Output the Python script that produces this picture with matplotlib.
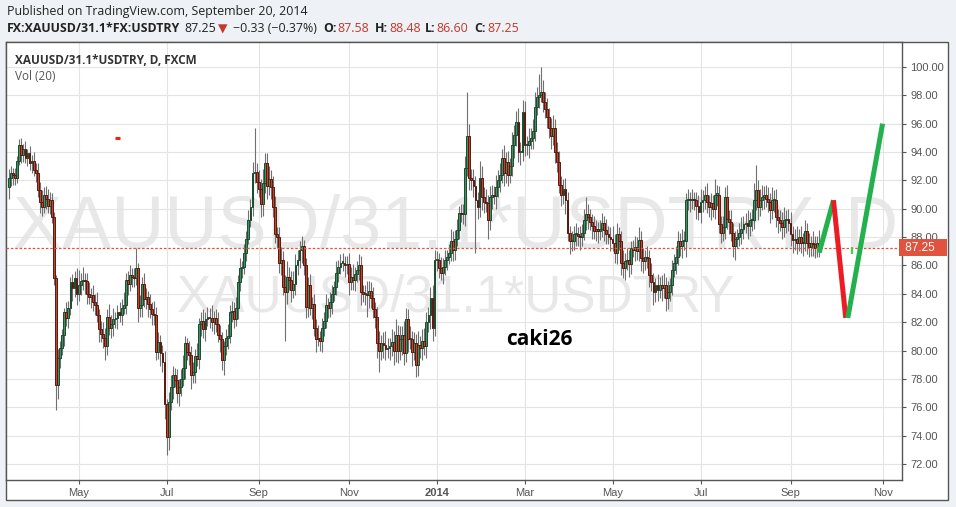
# XAUUSD/31.1*USDTRY daily candles (TradingView snapshot style)

import numpy as np
import pandas as pd
import matplotlib
matplotlib.use('Agg')
import matplotlib.pyplot as plt
from matplotlib.patches import Rectangle

# daily closes, 2013-03 .. 2014-09-19 (open = previous close)
first_open = 91.5
closes = [
    92.2, 92.5, 92.4, 92.2, 93.4, 94.5, 93.8, 94.2, 93.6, 93.9,
    93.2, 93.4, 92.7, 92.5, 91.3, 90.5, 90.1, 91.0, 90.7, 90.2,
    90.6, 89.4, 85.1, 77.6, 79.5, 80.2, 81.1, 82.7, 82.3, 83.0,
    84.8, 84.4, 85.1, 84.0, 84.6, 84.9, 85.0, 84.9, 84.0, 83.8,
    83.9, 83.4, 83.2, 82.5, 81.5, 81.2, 80.9, 80.3, 82.4, 81.6,
    81.9, 82.2, 82.3, 82.7, 82.5, 83.0, 83.2, 85.0, 84.7, 85.3,
    85.2, 85.1, 85.8, 83.0, 83.2, 84.7, 83.6, 83.8, 83.3, 82.9,
    82.6, 82.5, 79.9, 80.6, 79.8, 79.2, 76.2, 73.9, 76.4, 77.4,
    78.3, 77.9, 77.0, 77.4, 78.0, 78.8, 80.5, 79.9, 79.7, 78.3,
    78.5, 79.6, 79.4, 81.9, 82.1, 81.5, 82.2, 82.4, 82.3, 82.0,
    82.3, 81.9, 81.1, 80.8, 79.3, 80.3, 80.9, 81.0, 82.7, 82.8,
    82.2, 83.0, 84.8, 85.8, 85.9, 86.9, 87.9, 89.2, 90.1, 92.5,
    92.6, 91.9, 91.4, 90.3, 91.8, 93.2, 91.6, 92.1, 91.5, 90.1,
    88.2, 88.0, 86.2, 86.4, 84.5, 84.1, 85.2, 85.0, 84.3, 84.7,
    86.0, 86.4, 87.1, 87.4, 86.0, 83.1,
    # Oct 2013 - Jan 2014
    84.6, 83.0, 83.3, 81.6, 80.8, 80.9, 80.7, 81.6, 82.1, 83.2,
    83.0, 83.4, 84.0, 84.5, 85.5, 85.9, 86.2, 86.2, 86.0, 86.1,
    84.8, 85.2, 85.0, 85.4, 85.7, 86.0, 84.1, 84.0, 84.0, 83.9,
    84.2, 83.7, 82.9, 82.4, 80.5, 80.0, 80.5, 80.4, 80.1, 80.2,
    80.3, 80.6, 80.0, 81.1, 80.0, 80.8, 81.1, 79.8, 82.2, 80.8,
    80.8, 79.9, 80.5, 79.0, 80.4, 80.2, 80.7, 80.3, 82.0, 82.5,
    83.7, 81.6, 86.4, 86.4, 85.8, 85.5, 85.9, 86.4, 86.6, 86.9,
    87.7, 87.1, 87.9, 88.5,
    # Jan - Apr 2014
    89.7, 89.6, 89.6, 92.9, 95.1, 92.2, 92.0, 91.6, 90.6, 90.1,
    92.2, 90.8, 90.5, 90.4, 89.2, 90.8, 91.0, 90.9, 91.5, 92.0,
    92.4, 93.6, 92.5, 93.3, 92.4, 93.0, 94.5, 95.2, 96.1, 94.0,
    94.0, 96.8, 94.5, 94.5, 94.8, 95.0, 95.5, 97.2, 97.9, 98.0,
    98.2, 97.5, 97.0, 96.5, 95.7, 95.1, 95.7, 94.0, 93.3, 91.7,
    91.0, 91.4, 90.6, 88.3, 87.7, 87.7, 88.2, 88.2, 88.1, 88.0,
    88.3, 89.2, 89.6, 89.4, 89.1, 88.8, 88.4, 88.6, 88.4, 88.6,
    # Apr - Jul 2014
    89.0, 88.5, 88.2, 88.0, 87.9, 87.6, 86.9, 88.2, 87.7, 86.2,
    85.8, 86.3, 86.4, 86.1, 87.2, 87.1, 87.3, 87.0, 87.8, 86.5,
    86.3, 86.6, 86.5, 85.3, 84.8, 84.1, 84.6, 84.3, 84.6, 84.4,
    84.6, 83.7, 84.1, 84.6, 85.7, 86.2, 86.6, 87.7, 87.4, 87.7,
    87.7, 90.6, 90.6, 90.6, 90.7, 90.6, 90.2, 89.8, 90.5, 90.6,
    91.0, 90.5, 90.1, 90.4, 90.0, 91.0, 91.0, 88.9,
    # Jul - Sep 2014
    88.3, 88.7, 90.8, 89.3, 89.1, 88.3, 87.4, 87.9, 88.0, 88.3,
    88.6, 88.9, 89.0, 88.8, 89.2, 89.2, 90.6, 91.3, 90.1, 90.6,
    90.8, 91.0, 90.7, 90.5, 89.9, 90.6, 90.6, 89.4, 89.2, 89.0,
    88.7, 89.2, 89.3, 89.0, 88.2, 87.8, 87.9, 87.6, 88.0, 87.6,
    87.6, 88.4, 87.6, 87.3, 87.6, 87.5, 87.2, 87.58, 87.25,
]

# upper / lower wick lengths beyond the body
wick_up = [
    .6, .5, .4, .5, .3, .4, .5, .4, .6, .3, .5, .4, .6, .5, .7, .6, .8, .5, .6, .7,
    .6, .5, .4, .2, .6, .5, .4, .3, .7, .5, .4, .6, .5, .7, 1.1, .6, .9, .5, .6, .8,
    .5, .7, .6, .9, .4, .6, .8, .7, .5, .9, .6, .8, .4, .5, .7, .6, .9, .5, .6, .7,
    .5, .6, 1.4, .4, .7, .5, .8, .6, .4, .7, .5, .9, .6, .7, .5, .6, .8, .4, .7, .9,
    .6, .5, .8, .6, .7, .9, .5, .4, .8, .6, .7, .5, .9, .4, .6, .8, .5, .7, .6, .9,
    .5, .6, .8, .7, .5, .4, .6, .9, .5, .7, .6, .8, .5, .7, .4, .6, .5, .7, .6, .8,
    3.1, .6, .8, .7, 1.0, .7, .7, .9, .6, .8, .8, .5, .7, .9, .6, .8, 1.1, .7, .6, .9,
    .8, .7, .6, .7, .4, .5,
    .6, .8, .5, .7, .6, .9, .5, .7, .6, .8, .5, .7, .6, .4, .8, .5, .6, .7, .5, .6,
    .8, .7, .9, .5, .6, .8, .7, .5, .6, .9, .7, .6, .8, .5, .7, .9, .6, .8, 1.0, .7,
    .6, .9, .8, 1.1, .7, .9, .6, 1.0, .8, .7, .9, .6, .8, .7, 1.0, .6, .8, .9, .7, .6,
    .8, .9, .7, .6, .5, .8, .6, .7, .5, .6, .9, .7, .6, .8,
    .5, .6, .7, .8, 3.1, .9, .6, .8, .7, .6, 1.2, .8, .7, .9, .6, .8, .7, .6, .9, .7,
    .8, .6, .9, .7, .8, .6, .9, .7, .8, 1.0, .7, .9, .8, .6, .9, .7, .8, 1.0, .7, 1.5,
    1.8, .9, .7, .8, .6, .7, .9, .6, .7, .8, .6, .7, .8, .6, .5, .7, .6, .8, .5, .7,
    .6, .8, 1.2, .7, .6, .5, .7, .6, .5, .6,
    .7, .5, .8, .6, .7, .9, .6, .8, .5, .7, .9, .6, .8, .7, .5, .6, .8, .7, .9, .6,
    .7, .5, .8, .6, .9, .7, .5, .8, .6, .7, .9, .6, .8, .5, .7, .6, .8, .7, .6, .9,
    .7, .5, .8, .6, .7, .5, .6, .8, .9, .7, .6, .8, .5, .7, .6, 1.1, .7, .6,
    .6, .8, .7, .9, .6, .8, .7, .5, .6, .7, .8, .6, .7, .9, .6, .8, 1.2, 1.8, .7, .8,
    .9, .6, .7, .8, .6, .9, .7, .8, .6, .7, .8, .9, .6, .7, .8, .6, .7, .9, .6, .8,
    .7, .8, .6, .7, .5, .8, .6, .5, .9,
]
wick_dn = [
    .8, .6, .7, .5, .4, .3, .6, .5, .4, .6, .5, .7, .4, .6, .5, .8, .6, .4, .7, .5,
    .6, .4, .5, 1.8, 1.0, .7, .5, .8, .6, .7, .5, .9, .6, .8, .5, .7, .6, .9, .7, .5,
    .8, .6, .7, .5, .9, .6, .7, 1.0, .6, .5, .7, .9, .6, .8, .5, .7, .4, .6, .8, .5,
    .7, .6, .5, 1.0, .6, .8, .5, .7, .9, .6, .8, .7, .6, .5, .9, .7, 1.0, 1.3, .9, .6,
    .8, .5, .7, .9, .6, .5, .8, .6, .7, 1.0, .6, .8, .5, .7, .9, .6, .8, .5, .7, .6,
    .8, .6, .5, .9, .7, 1.0, .6, .8, .5, .7, .6, .5, .8, .6, .7, .5, .6, .4, .5, .6,
    .7, .8, .6, .9, .8, .7, .9, .6, .8, .7, .6, .8, .7, .9, .6, 3.4, .8, .7, .9, .6,
    .8, .7, .6, .9, .7, .8,
    .7, .5, .8, .6, .9, .5, .7, .8, .6, .5, .7, .6, .8, .5, .6, .7, .5, .6, .8, .6,
    .9, .5, .7, .8, .6, .7, .9, .6, .8, 1.5, .9, .7, .6, .8, 1.0, 1.5, .7, .9, .8, .6,
    .9, .7, 1.0, .8, .9, .7, 1.1, .8, .6, .9, .7, 1.0, .6, .9, .8, .7, .9, .6, .8, .7,
    1.0, .9, .6, .8, .7, .5, .8, .6, .7, .5, .6, .8, .7, .5,
    .6, .5, .7, .8, .6, .9, .7, .8, 3.7, .8, .7, .9, .8, .6, 1.3, .7, .8, .6, .9, .7,
    .8, .6, .9, .7, .8, .6, .7, .9, .8, .7, .9, .6, .8, .7, .9, .6, .8, .7, .6, .8,
    .5, .7, .6, .8, .7, .9, .6, .8, .7, .6, .8, .7, 1.0, .6, .9, .7, .6, .8, .7, .9,
    .6, .5, .7, .8, .6, .9, .5, .7, .8, .6,
    .6, .8, .7, .5, .9, .6, .7, .8, .6, .9, .7, .8, .6, .9, .7, .5, .8, .6, .7, .9,
    .8, .6, .7, .8, .6, .9, .7, .8, .6, .9, .7, .9, .8, .6, .7, .5, .8, .6, .7, .9,
    .6, 1.1, .7, .8, .6, .7, .9, .6, .8, .7, .6, .8, .7, .9, .6, .7, .8, .6,
    .7, .6, .8, .7, .9, .6, .8, 1.0, .7, .6, .8, .7, .6, .9, .7, .8, .6, .7, .9, .6,
    .7, .8, .6, .7, .9, .6, .8, .7, .9, .6, .8, .7, .9, .6, .8, .9, .7, .8, .6, .7,
    .9, .6, .8, .7, .6, .8, .7, .6, .65,
]
assert len(closes) == len(wick_up) == len(wick_dn), (len(closes), len(wick_up), len(wick_dn))

last_date = '2014-09-19'
axis_end = '2014-11-28'

# month labels on the time axis
month_starts = ['2013-05-01', '2013-07-01', '2013-09-01', '2013-11-01', '2014-01-01',
                '2014-03-01', '2014-05-01', '2014-07-01', '2014-09-01', '2014-11-01']
month_labels = ['May', 'Jul', 'Sep', 'Nov', '2014', 'Mar', 'May', 'Jul', 'Sep', 'Nov']

# author's drawn projection lines (date, price)
proj_green1 = (['2014-09-19', '2014-09-30'], [86.9, 90.6])
proj_red = (['2014-09-30', '2014-10-08'], [90.6, 82.3])
proj_green2 = (['2014-10-09', '2014-11-03'], [82.3, 96.0])
mark_red = (['2013-05-27', '2013-05-29'], [95.0, 95.0])
mark_green = (['2014-10-13', '2014-10-13'], [87.3, 86.8])

last_price = 87.25
yticks = np.arange(72, 101, 2)

# ---------------------------------------------------------------
n = len(closes)
dates = pd.bdate_range(end=last_date, periods=n)
all_days = pd.bdate_range(dates[0], axis_end)

def pos(d):
    return all_days.searchsorted(pd.Timestamp(d))

c = np.array(closes)
o = np.array([first_open] + closes[:-1])
hi = np.maximum(o, c) + np.array(wick_up)
lo = np.minimum(o, c) - np.array(wick_dn)
x = np.arange(n)
up = c >= o
body = np.where(np.abs(c - o) < 0.08, np.where(up, 0.08, -0.08), c - o)

W, H = 956, 507
fig = plt.figure(figsize=(W / 100, H / 100), dpi=100, facecolor='#eef1f5')

def fx(px):
    return px / W

def fy(py):
    return 1 - py / H

# white chart panel (behind the axes)
fig.patches.append(Rectangle((fx(6), fy(500)), fx(948) - fx(6), fy(42) - fy(500),
                             transform=fig.transFigure, facecolor='white',
                             edgecolor='#555555', lw=1.0, zorder=-10))

ax = fig.add_axes([fx(6), fy(480), fx(902) - fx(6), fy(42) - fy(480)])
ax.set_zorder(1)
ax.set_facecolor('white')
ax.set_xlim(-1.5, 436.5)
ax.set_ylim(70.87, 101.76)

# watermark
ax.text(0.502, 0.575, 'XAUUSD/31.1*USDTRY, D', transform=ax.transAxes, ha='center',
        va='center', fontsize=53, color='#e8e8e8', family='Liberation Sans', zorder=0)
ax.text(0.502, 0.416, 'XAUUSD/31.1*USDTRY', transform=ax.transAxes, ha='center',
        va='center', fontsize=37, color='#e8e8e8', family='Liberation Sans', zorder=0)

# candles
ax.vlines(x, lo, hi, color='#707070', lw=0.8, zorder=2)
ax.bar(x[up], body[up], bottom=o[up], width=0.9, color='#3f9363', edgecolor='#1b4a2e',
       lw=0.7, zorder=3)
ax.bar(x[~up], body[~up], bottom=o[~up], width=0.9, color='#cc4129', edgecolor='#561a10',
       lw=0.7, zorder=3)

# last price line + label
ax.axhline(last_price, color='#e0533e', lw=0.9, ls=(0, (2, 1.5)), zorder=4)
ax.text(1.0, last_price, f' {last_price:.2f}   ', transform=ax.get_yaxis_transform(),
        ha='left', va='center', color='white', fontsize=8.5, family='Liberation Sans',
        bbox=dict(boxstyle='square,pad=0.22', fc='#e0533e', ec='none'), clip_on=False, zorder=6)

# drawings
for (d, v), col, lw in [(proj_green1, '#22b14c', 3.6), (proj_red, '#ed1c24', 3.6),
                        (proj_green2, '#22b14c', 3.6), (mark_red, '#ff1a1a', 2.2),
                        (mark_green, '#33dd33', 1.5)]:
    ax.plot([pos(t) for t in d], v, color=col, lw=lw, solid_capstyle='butt', zorder=5)

ax.text(0.595, 0.32, 'caki26', transform=ax.transAxes, ha='center', va='center',
        fontsize=15, fontweight='bold', color='black', family='Open Sans', zorder=7)

# axes styling
ax.grid(True, color='#e4e4e4', lw=0.8)
ax.set_axisbelow(True)
for s in ax.spines.values():
    s.set_color('#555555')
    s.set_linewidth(1.0)
ax.yaxis.tick_right()
ax.set_yticks(yticks)
ax.set_yticklabels([f'{v:.2f}' for v in yticks], family='Liberation Sans')
ax.set_xticks([pos(d) for d in month_starts])
ax.set_xticklabels(month_labels, family='Liberation Sans')
ax.get_xticklabels()[4].set_fontweight('bold')
ax.get_xticklabels()[4].set_color('#333333')
ax.tick_params(axis='y', length=3, colors='#555555', labelsize=8, pad=3)
ax.tick_params(axis='x', length=3, colors='#555555', labelsize=8, pad=3)

# legend text inside chart
ax.text(9 / 896, 1 - 18 / 438, 'XAUUSD/31.1*USDTRY, D, FXCM', transform=ax.transAxes,
        fontsize=8.5, fontweight='bold', color='#333333', va='center', family='Open Sans')
ax.text(9 / 896, 1 - 34 / 438, 'Vol (20)', transform=ax.transAxes,
        fontsize=8.5, color='#555555', va='center', family='Open Sans')

# header
def put(px, py, s, **kw):
    kw.setdefault('fontsize', 8.9)
    kw.setdefault('color', '#222222')
    fig.text(fx(px), fy(py), s, va='center', family=['Open Sans', 'DejaVu Sans'], **kw)

red = '#c0392b'
put(7, 11, 'Published on TradingView.com, September 20, 2014')
put(7, 29, 'FX:XAUUSD/31.1*FX:USDTRY', fontweight='bold')
put(184, 29, '87.25')
put(218, 29, '▼', color=red)
put(233, 29, '−0.33 (−0.37%)')
put(323, 29, 'O:', fontweight='bold')
put(337, 29, '87.58', color=red)
put(375, 29, 'H:', fontweight='bold')
put(389, 29, '88.48', color=red)
put(425, 29, 'L:', fontweight='bold')
put(436, 29, '86.60', color=red)
put(474, 29, 'C:', fontweight='bold')
put(487, 29, '87.25', color=red)

fig.savefig('out.png', dpi=100, facecolor=fig.get_facecolor())
